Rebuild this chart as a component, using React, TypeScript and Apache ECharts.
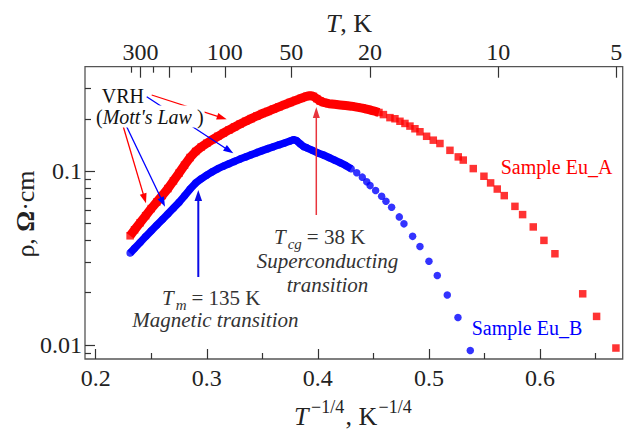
import React, { useEffect, useRef } from 'react';
import * as echarts from 'echarts';

// ---- data (x = T^-1/4 in K^-1/4, y = resistivity in Ohm*cm) ----
const euA: [number, number][] = [
  [0.231, 0.0425], [0.235, 0.046], [0.24, 0.0505], [0.245, 0.0555], [0.25, 0.061], [0.255, 0.0665],
  [0.26, 0.0725], [0.265, 0.0795], [0.27, 0.088], [0.275, 0.0975], [0.28, 0.1085], [0.285, 0.12],
  [0.29, 0.13], [0.295, 0.138], [0.3, 0.145], [0.305, 0.152], [0.31, 0.159], [0.315, 0.166],
  [0.32, 0.173], [0.325, 0.18], [0.33, 0.187], [0.335, 0.194], [0.34, 0.201], [0.345, 0.208],
  [0.35, 0.215], [0.355, 0.221], [0.36, 0.228], [0.365, 0.235], [0.37, 0.242], [0.375, 0.249],
  [0.38, 0.256], [0.385, 0.263], [0.39, 0.27], [0.393, 0.273], [0.396, 0.27], [0.399, 0.262],
  [0.402, 0.254], [0.405, 0.249], [0.41, 0.245], [0.415, 0.243], [0.42, 0.241], [0.425, 0.239],
  [0.43, 0.237], [0.435, 0.234], [0.44, 0.231], [0.445, 0.227], [0.45, 0.223], [0.455, 0.218],
  [0.459, 0.212], [0.4649, 0.2036], [0.4694, 0.2006], [0.4739, 0.194], [0.4784, 0.1885],
  [0.4829, 0.182], [0.4874, 0.1757], [0.4919, 0.1688], [0.4979, 0.159], [0.5039, 0.151],
  [0.5099, 0.1445], [0.5189, 0.132], [0.5264, 0.121], [0.5309, 0.116], [0.5399, 0.1036],
  [0.5495, 0.0936], [0.5555, 0.0857], [0.5615, 0.079], [0.5678, 0.0724], [0.5774, 0.0628],
  [0.5843, 0.0563], [0.5939, 0.0478], [0.6035, 0.04], [0.6134, 0.0335], [0.6384, 0.0197],
  [0.6509, 0.0146], [0.6683, 0.0096],
];

const euB: [number, number][] = [
  [0.231, 0.0338], [0.235, 0.036], [0.24, 0.0389], [0.245, 0.0421], [0.25, 0.0454], [0.255, 0.0489],
  [0.26, 0.0527], [0.265, 0.0568], [0.27, 0.0613], [0.275, 0.0662], [0.28, 0.0722], [0.285, 0.079],
  [0.29, 0.0855], [0.295, 0.0905], [0.3, 0.095], [0.305, 0.0993], [0.31, 0.1035], [0.315, 0.107],
  [0.32, 0.1105], [0.325, 0.114], [0.33, 0.1175], [0.335, 0.121], [0.34, 0.1245], [0.345, 0.128],
  [0.35, 0.1315], [0.355, 0.135], [0.36, 0.1385], [0.365, 0.142], [0.37, 0.1455], [0.375, 0.1495],
  [0.378, 0.152], [0.381, 0.15], [0.384, 0.144], [0.387, 0.139], [0.39, 0.1365], [0.395, 0.132],
  [0.4, 0.1275], [0.405, 0.124], [0.41, 0.12], [0.415, 0.116], [0.42, 0.112], [0.425, 0.108],
  [0.43, 0.1035], [0.435, 0.098], [0.44, 0.0925], [0.444, 0.087], [0.447, 0.0827], [0.452, 0.0775],
  [0.4574, 0.0718], [0.4613, 0.0672], [0.4664, 0.062], [0.4733, 0.0546], [0.4775, 0.0498],
  [0.4853, 0.0422], [0.4919, 0.0369], [0.5, 0.0303], [0.5075, 0.0251], [0.5165, 0.0194],
  [0.5261, 0.0144], [0.5372, 0.0093],
];

const X_MIN = 0.1904;
const X_MAX = 0.6744;
const Y_MIN = 0.0083;
const Y_MAX = 0.4;

const bottomMajorTicks = [0.2, 0.3, 0.4, 0.5, 0.6];
const bottomMinorTicks = [0.25, 0.35, 0.45, 0.55, 0.65];
const topTickLabels = ['300', '100', '50', '20', '10', '5'];
const topTickPos = [0.2403, 0.3162, 0.376, 0.447, 0.5623, 0.6687];
const topExtraLongPos = [0.2659];
const topMinorPos = [0.2316, 0.2515, 0.2857];
const yMajorTicks = [0.01, 0.1];
const yMajorLabels = ['0.01', '0.1'];
const yMinorTicks = [0.009, 0.02, 0.03, 0.04, 0.05, 0.06, 0.07, 0.08, 0.09, 0.2, 0.3];

const SERIF = '"Liberation Serif", "Times New Roman", serif';
const RED = '#ff0000';
const BLUE = '#0000ff';
const TICK = { color: '#333', width: 1.2 };

function txt(x: number, baseline: number, text: string, o: any = {}) {
  const fs = o.fontSize || 20;
  return {
    type: 'text',
    x,
    y: baseline - 0.34 * fs,
    z: 20,
    style: {
      text,
      fontSize: fs,
      fontFamily: SERIF,
      fontStyle: o.italic ? 'italic' : 'normal',
      fontWeight: o.bold ? 'bold' : 'normal',
      fill: o.color || '#333',
      align: o.align || 'left',
      verticalAlign: 'middle',
      ...(o.extra || {}),
    },
  };
}

// "T_sub = value" as one rich text, subscript lowered via token padding
function subText(x: number, baseline: number, sub: string, rest: string) {
  const c = '#333';
  return {
    type: 'text',
    x,
    y: baseline - 0.34 * 21,
    z: 20,
    style: {
      text: `{i|T}{s|${sub}}{n|= ${rest}}`,
      fontSize: 21, fontFamily: SERIF, fill: c,
      align: 'left', verticalAlign: 'middle',
      rich: {
        i: { fontSize: 21, fontFamily: SERIF, fontStyle: 'italic', fill: c, lineHeight: 24 },
        s: { fontSize: 15, fontFamily: SERIF, fontStyle: 'italic', fill: c, lineHeight: 18, padding: [14, 0, 0, 2] },
        n: { fontSize: 21, fontFamily: SERIF, fill: c, lineHeight: 24, padding: [0, 0, 0, 5] },
      },
    },
  };
}

function arrow(x1: number, y1: number, x2: number, y2: number, color: string, w: number, L = 10, hw = 3.5) {
  const dx = x2 - x1, dy = y2 - y1;
  const len = Math.sqrt(dx * dx + dy * dy);
  const ux = dx / len, uy = dy / len;
  const bx = x2 - ux * L, by = y2 - uy * L;
  const px = -uy * hw, py = ux * hw;
  return [
    { type: 'line', z: 15, shape: { x1, y1, x2: bx + ux * 2, y2: by + uy * 2 }, style: { stroke: color, lineWidth: w } },
    { type: 'polygon', z: 15, shape: { points: [[x2, y2], [bx + px, by + py], [bx - px, by - py]] }, style: { fill: color } },
  ];
}

export default function App() {
  const ref = useRef<HTMLDivElement>(null);
  useEffect(() => {
    document.body.style.margin = '0';
    if (!ref.current) return;
    const chart = echarts.init(ref.current, undefined, { renderer: 'svg' });
    const baseX = {
      type: 'value', min: X_MIN, max: X_MAX,
      splitLine: { show: false }, axisLine: { show: false },
    };
    const baseY = {
      type: 'value', min: Math.log10(Y_MIN), max: Math.log10(Y_MAX), position: 'left',
      splitLine: { show: false }, axisLine: { show: false },
    };
    const labelFont = { fontFamily: SERIF, fontSize: 24, color: '#222' };

    const graphic: any[] = [
      ...arrow(151.7, 95, 226.7, 119.3, RED, 1.3),
      ...arrow(146.7, 96.7, 233.3, 153.3, BLUE, 1.3),
      ...arrow(123.3, 126.7, 146, 203.3, RED, 1.3),
      ...arrow(126.7, 126.7, 165, 206.7, BLUE, 1.3),
      ...arrow(316.3, 215, 316.3, 107, '#e8343c', 1.5, 11, 3.5),
      ...arrow(198.3, 277, 198.3, 190, '#0a0ae6', 2, 11, 3.8),
      txt(101.7, 103, 'VRH', { color: '#111' }),
      {
        type: 'text', x: 96, y: 123.3 - 6.8, z: 18,
        style: {
          text: "({i|Mott's Law} )",
          fontSize: 20, fontFamily: SERIF, fill: '#111',
          align: 'left', verticalAlign: 'middle',
          backgroundColor: '#fff', padding: [1, 1, 1, 0],
          rich: { i: { fontSize: 20, fontFamily: SERIF, fontStyle: 'italic', fill: '#111' } },
        },
      },
      subText(274, 244, 'cg', '38 K'),
      txt(327.5, 268, 'Superconducting', { italic: true, fontSize: 21, align: 'center' }),
      txt(327.5, 291.7, 'transition', { italic: true, fontSize: 21, align: 'center' }),
      subText(162, 305, 'm', '135 K'),
      txt(298.5, 327, 'Magnetic transition', { italic: true, fontSize: 21, align: 'right' }),
      txt(500.7, 174, 'Sample Eu_A', { color: RED, fontSize: 20 }),
      txt(471.7, 334.3, 'Sample Eu_B', { color: BLUE, fontSize: 20 }),
      // axis titles
      {
        type: 'text', x: 349, y: 32 - 8.8, z: 20,
        style: {
          text: '{i|T}{n|, K}', align: 'center', verticalAlign: 'middle', fontSize: 26, fontFamily: SERIF, fill: '#222',
          rich: {
            i: { fontSize: 26, fontFamily: SERIF, fontStyle: 'italic', fill: '#222' },
            n: { fontSize: 26, fontFamily: SERIF, fill: '#222' },
          },
        },
      },
      txt(294, 425.5, 'T', { italic: true, fontSize: 26, color: '#222' }),
      txt(311, 413, '\u22121/4', { fontSize: 18, color: '#222' }),
      txt(345.5, 425.5, ', K', { fontSize: 26, color: '#222' }),
      txt(378.5, 413, '\u22121/4', { fontSize: 18, color: '#222' }),
      {
        type: 'text', x: 25.5, y: 214, rotation: Math.PI / 2, z: 20,
        style: {
          text: '{n|\u03c1, }{b|\u03a9}{n|\u00b7cm}', align: 'center', verticalAlign: 'middle',
          fontSize: 26, fontFamily: SERIF, fill: '#222',
          rich: {
            n: { fontSize: 26, fontFamily: SERIF, fill: '#222' },
            b: { fontSize: 26, fontFamily: SERIF, fontWeight: 'bold', fill: '#222' },
          },
        },
      },
    ];

    chart.setOption({
      animation: false,
      grid: { left: 85, right: 10.3, top: 66.7, bottom: 71, show: true, borderColor: '#555', borderWidth: 1.3, backgroundColor: 'transparent' },
      xAxis: [
        {
          ...baseX, position: 'bottom',
          axisTick: { inside: true, length: 10, customValues: bottomMajorTicks, lineStyle: TICK },
          axisLabel: { ...labelFont, margin: 7, customValues: bottomMajorTicks, formatter: (v: number) => v.toFixed(1) },
        },
        {
          ...baseX, position: 'bottom',
          axisTick: { inside: true, length: 6, customValues: bottomMinorTicks, lineStyle: TICK },
          axisLabel: { show: false },
        },
        {
          ...baseX, position: 'top',
          axisTick: { inside: true, length: 11, customValues: [...topTickPos, ...topExtraLongPos], lineStyle: TICK },
          axisLabel: {
            ...labelFont, margin: 3, customValues: topTickPos,
            formatter: (v: number) => {
              let best = 0;
              topTickPos.forEach((p, i) => { if (Math.abs(p - v) < Math.abs(topTickPos[best] - v)) best = i; });
              return topTickLabels[best];
            },
          },
        },
        {
          ...baseX, position: 'top',
          axisTick: { inside: true, length: 6, customValues: topMinorPos, lineStyle: TICK },
          axisLabel: { show: false },
        },
      ],
      yAxis: [
        {
          type: 'log', logBase: 10, min: Y_MIN, max: Y_MAX,
          axisLine: { show: false }, axisTick: { show: false }, axisLabel: { show: false }, splitLine: { show: false },
        },
        {
          ...baseY,
          axisTick: { inside: true, length: 10, customValues: yMajorTicks.map(Math.log10), lineStyle: TICK },
          axisLabel: {
            ...labelFont, margin: 3, customValues: yMajorTicks.map(Math.log10),
            formatter: (v: number) => {
              let best = 0;
              yMajorTicks.forEach((p, i) => { if (Math.abs(Math.log10(p) - v) < Math.abs(Math.log10(yMajorTicks[best]) - v)) best = i; });
              return yMajorLabels[best];
            },
          },
        },
        {
          ...baseY,
          axisTick: { inside: true, length: 6, customValues: yMinorTicks.map(Math.log10), lineStyle: TICK },
          axisLabel: { show: false },
        },
      ],
      series: [
        {
          type: 'line', xAxisIndex: 0, yAxisIndex: 0, data: euA.filter((p) => p[0] <= 0.456),
          symbol: 'none', showSymbol: false, lineStyle: { color: RED, width: 9 }, silent: true, z: 2,
        },
        {
          type: 'scatter', xAxisIndex: 0, yAxisIndex: 0, data: euA,
          symbol: 'rect', symbolSize: 7.5, itemStyle: { color: RED }, silent: true, z: 3,
        },
        {
          type: 'line', xAxisIndex: 0, yAxisIndex: 0, data: euB.filter((p) => p[0] <= 0.432),
          symbol: 'none', showSymbol: false, lineStyle: { color: BLUE, width: 7.5 }, silent: true, z: 4,
        },
        {
          type: 'scatter', xAxisIndex: 0, yAxisIndex: 0, data: euB,
          symbol: 'circle', symbolSize: 7.5, itemStyle: { color: BLUE }, silent: true, z: 5,
        },
      ],
      graphic,
    });
    return () => chart.dispose();
  }, []);
  return <div ref={ref} style={{ width: 633, height: 430 }} />;
}
